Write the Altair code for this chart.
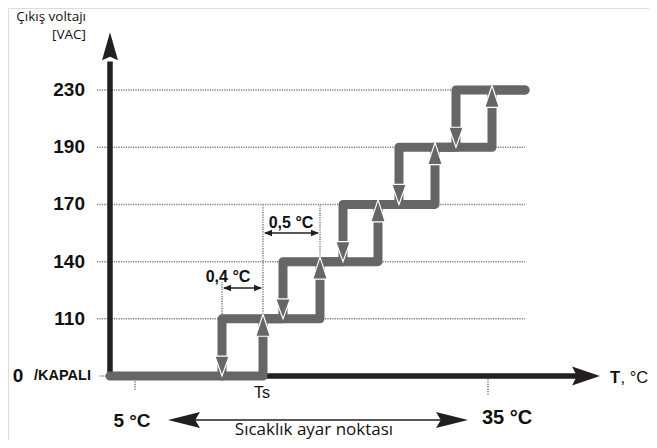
import altair as alt
import pandas as pd

# ---------------- data (schematic units: x = distance from origin, y = output level index) ----
levels = [0, 1, 2, 3, 4, 5]
volt_labels = ["0", "110", "140", "170", "190", "230"]
up_x = [153, 210, 268, 325, 382]      # switch-up points (rising temperature)
down_x = [112, 173, 233, 289, 346]    # switch-down points (falling temperature)
line_end = 415
grid_start = -13
x_axis_end = 472
x_arrow_tip = 490
y_axis_end = 5.5
y_arrow_tip = 6.01
tick_5c = 25
tick_35c = 378
range_left_tip, range_right_tip = 58, 358
range_y = -0.77
hyst_y = 1.54
step_y = 2.5

X = alt.Scale(domain=[-102, 539], nice=False, zero=False)
Y = alt.Scale(domain=[-1.118, 6.434], nice=False, zero=False)

def enc(**kw):
    out = {}
    for k, v in kw.items():
        if k in ("x", "x2"):
            out[k] = alt.X(f"{v}:Q", scale=X, axis=None) if k == "x" else alt.X2(f"{v}")
        elif k in ("y", "y2"):
            out[k] = alt.Y(f"{v}:Q", scale=Y, axis=None) if k == "y" else alt.Y2(f"{v}")
        else:
            out[k] = v
    return out

def segs(rows):
    return pd.DataFrame(rows, columns=["x", "y", "x2", "y2"])

GRID = "#7a7a7a"
STAIR = "#666666"
INK = "#231f20"

# dotted gridlines
grid_rows = [(grid_start, l, line_end, l) for l in levels[1:]] + [(-10, 0, 0, 0)]
grid = alt.Chart(segs(grid_rows)).mark_rule(
    color=GRID, strokeWidth=1.5, strokeDash=[1.2, 1.2]
).encode(**enc(x="x", y="y", x2="x2", y2="y2"))

# dotted verticals (reference lines and ticks)
vref_rows = [
    (down_x[0], 1, down_x[0], 1.65),
    (up_x[0], 1, up_x[0], 2.98),
    (up_x[1], 2, up_x[1], 2.98),
    (tick_5c, -0.05, tick_5c, -0.25),
    (tick_35c, -0.05, tick_35c, -0.33),
]
vref = alt.Chart(segs(vref_rows)).mark_rule(
    color=GRID, strokeWidth=1.5, strokeDash=[1.2, 1.2]
).encode(**enc(x="x", y="y", x2="x2", y2="y2"))

# axes lines
axes = alt.Chart(segs([(0, 0, x_axis_end, 0), (0, -0.03, 0, y_axis_end)])).mark_rule(
    color=INK, strokeWidth=5.5
).encode(**enc(x="x", y="y", x2="x2", y2="y2"))

ax_heads = alt.layer(
    alt.Chart(pd.DataFrame({"x": [x_arrow_tip], "y": [0]})).mark_point(
        shape="M0,0 L-2,-0.68 L-1.65,0 L-2,0.68 Z", size=784, filled=True,
        color=INK, opacity=1, strokeWidth=0
    ).encode(**enc(x="x", y="y")),
    alt.Chart(pd.DataFrame({"x": [0], "y": [y_arrow_tip]})).mark_point(
        shape="M0,0 L0.57,2 L0,1.75 L-0.57,2 Z", size=784, filled=True,
        color=INK, opacity=1, strokeWidth=0
    ).encode(**enc(x="x", y="y")),
)

# staircase (rising and falling paths)
rise = [(0, 0)]
for k, ux in enumerate(up_x):
    rise += [(ux, k), (ux, k + 1)]
rise.append((line_end, 5))
fall = [(line_end, 5)]
for k in range(len(down_x) - 1, -1, -1):
    fall += [(down_x[k], k + 1), (down_x[k], k)]
rows = [("rise", i, x, y) for i, (x, y) in enumerate(rise)] + \
       [("fall", i, x, y) for i, (x, y) in enumerate(fall)]
stair_df = pd.DataFrame(rows, columns=["path", "o", "x", "y"])
stair = alt.Chart(stair_df).mark_line(
    color=STAIR, strokeWidth=9, strokeJoin="round", strokeCap="round"
).encode(**enc(x="x", y="y"), detail="path:N", order="o:Q")

# direction arrows on staircase
down_df = pd.DataFrame({"x": down_x, "y": levels[:-1]})
up_df = pd.DataFrame({"x": up_x, "y": [l + 0.08 for l in levels[1:]]})
arr_down = alt.Chart(down_df).mark_point(
    shape="M0,0 L-0.36,-1 L0.36,-1 Z", size=1600, filled=True,
    fill=STAIR, stroke="white", strokeWidth=1.2, opacity=1
).encode(**enc(x="x", y="y"))
arr_up = alt.Chart(up_df).mark_point(
    shape="M0,0 L-0.33,1 L0.33,1 Z", size=1936, filled=True,
    fill=STAIR, stroke="white", strokeWidth=1.2, opacity=1
).encode(**enc(x="x", y="y"))

# dimension arrows
dim_rows = [(down_x[0] + 2, hyst_y, up_x[0] - 2, hyst_y), (up_x[0] + 2, step_y, up_x[1] - 2, step_y)]
dims = alt.Chart(segs(dim_rows)).mark_rule(color=INK, strokeWidth=1.5).encode(
    **enc(x="x", y="y", x2="x2", y2="y2"))
dimR = pd.DataFrame({"x": [up_x[0] - 1, up_x[1] - 1], "y": [hyst_y, step_y]})
dimL = pd.DataFrame({"x": [down_x[0] + 1, up_x[0] + 1], "y": [hyst_y, step_y]})
dim_heads = alt.layer(
    alt.Chart(dimR).mark_point(shape="M0,0 L-2,-0.8 L-2,0.8 Z", size=64, filled=True,
                               color=INK, opacity=1, strokeWidth=0).encode(**enc(x="x", y="y")),
    alt.Chart(dimL).mark_point(shape="M0,0 L2,-0.8 L2,0.8 Z", size=64, filled=True,
                               color=INK, opacity=1, strokeWidth=0).encode(**enc(x="x", y="y")),
)

# bottom range arrow
rng = alt.Chart(segs([(range_left_tip + 20, range_y, range_right_tip - 20, range_y)])).mark_rule(
    color=INK, strokeWidth=1.5).encode(**enc(x="x", y="y", x2="x2", y2="y2"))
rng_heads = alt.layer(
    alt.Chart(pd.DataFrame({"x": [range_right_tip], "y": [range_y]})).mark_point(
        shape="M0,0 L-2,-0.5 L-1.7,0 L-2,0.5 Z", size=1024, filled=True,
        color=INK, opacity=1, strokeWidth=0).encode(**enc(x="x", y="y")),
    alt.Chart(pd.DataFrame({"x": [range_left_tip], "y": [range_y]})).mark_point(
        shape="M0,0 L2,-0.5 L1.7,0 L2,0.5 Z", size=1024, filled=True,
        color=INK, opacity=1, strokeWidth=0).encode(**enc(x="x", y="y")),
)

# texts
def txt(df, **mk):
    base = dict(font="Liberation Sans", color="#111111", baseline="middle")
    base.update(mk)
    return alt.Chart(df).mark_text(**base).encode(**enc(x="x", y="y"), text="t:N")

ylab = txt(pd.DataFrame({"x": [-25] * 5, "y": levels[1:], "t": volt_labels[1:]}),
           align="right", fontSize=19, fontWeight="bold")
zero = txt(pd.DataFrame({"x": [-92], "y": [0], "t": [volt_labels[0]]}),
           align="center", fontSize=19, fontWeight="bold")
kapali = txt(pd.DataFrame({"x": [-76], "y": [0.0], "t": ["/KAPALI"]}),
             align="left", fontSize=14.5, fontWeight="bold")
ytitle = txt(pd.DataFrame({"x": [-24, -24], "y": [6.28, 5.955], "t": ["Çıkış voltajı", "[VAC]"]}),
             align="right", fontSize=13.5, font="Open Sans")
tT = txt(pd.DataFrame({"x": [500], "y": [-0.03], "t": ["T"]}), align="left", fontSize=16.5, fontWeight="bold")
tC = txt(pd.DataFrame({"x": [510.5], "y": [-0.03], "t": [", °C"]}), align="left", fontSize=16.5)
ts = txt(pd.DataFrame({"x": [up_x[0] - 1], "y": [-0.3], "t": ["Ts"]}), align="center", fontSize=16)
c5 = txt(pd.DataFrame({"x": [22], "y": [-0.79], "t": ["5 °C"]}), align="center", fontSize=19, fontWeight="bold")
c35 = txt(pd.DataFrame({"x": [397], "y": [-0.74], "t": ["35 °C"]}), align="center", fontSize=20, fontWeight="bold")
setp = txt(pd.DataFrame({"x": [204], "y": [-0.95], "t": ["Sıcaklık ayar noktası"]}),
           align="center", fontSize=17, font="Open Sans")
d04 = txt(pd.DataFrame({"x": [118], "y": [1.73], "t": ["0,4 °C"]}), align="center", fontSize=16, fontWeight="bold")
d05 = txt(pd.DataFrame({"x": [181], "y": [2.68], "t": ["0,5 °C"]}), align="center", fontSize=16, fontWeight="bold")

chart = alt.layer(
    grid, vref, axes, ax_heads, stair, arr_down, arr_up, dims, dim_heads, rng, rng_heads,
    ylab, zero, kapali, ytitle, tT, tC, ts, c5, c35, setp, d04, d05
).properties(
    width=641, height=432, autosize=alt.AutoSizeParams(type="none"), padding=0
).configure_view(stroke=None).configure(background="white")

chart.save("out.html", embed_options={"renderer": "svg", "actions": False})
